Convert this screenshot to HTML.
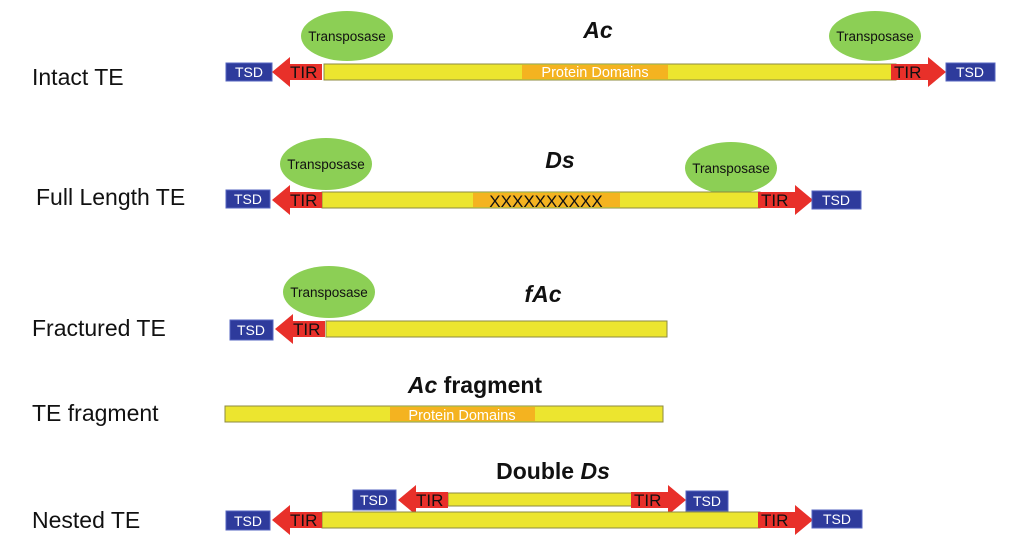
<!DOCTYPE html>
<html><head><meta charset="utf-8"><style>
html,body{margin:0;padding:0;background:#fff;}
svg{display:block;font-family:"Liberation Sans",sans-serif;}
.lbl{font-size:23px;fill:#111;}
.tsd{fill:#2e3b9c;stroke:#5565c0;stroke-width:1}
.tsdt{font-size:14px;fill:#fff;text-anchor:middle}
.tir{fill:#e8302a}
.tirt{font-size:17px;fill:#111}
.bar{fill:#ece52f;stroke:#8c8a40;stroke-width:1}
.or{fill:#f4b320}
.ell{fill:#8ccf55}
.tp{font-size:13.5px;fill:#111;text-anchor:middle}
.ttl{font-size:23px;font-weight:bold;fill:#111;text-anchor:middle}
</style></head><body>
<svg width="1020" height="541" viewBox="0 0 1020 541">
<defs>
<g id="L"><path class="tir" d="M0 0 L18 -15 L18 -8 L50 -8 L50 8 L18 8 L18 15 Z"/><text class="tirt" x="18" y="6">TIR</text></g>
<g id="R"><path class="tir" d="M0 0 L-18 -15 L-18 -8 L-55 -8 L-55 8 L-18 8 L-18 15 Z"/><text class="tirt" x="-52" y="6">TIR</text></g>
</defs>
<!-- Row 1 -->
<text class="lbl" x="32" y="85">Intact TE</text>
<ellipse class="ell" cx="347" cy="36" rx="46" ry="25"/><text class="tp" x="347" y="41">Transposase</text>
<ellipse class="ell" cx="875" cy="36" rx="46" ry="25"/><text class="tp" x="875" y="41">Transposase</text>
<text class="ttl" x="598" y="38" font-style="italic">Ac</text>
<rect class="bar" x="324" y="64" width="572" height="16"/>
<rect class="or" x="522" y="65" width="146" height="14"/>
<text x="595" y="77" font-size="14.5" fill="#fff" text-anchor="middle">Protein Domains</text>
<rect class="tsd" x="226" y="63" width="46" height="18"/><text class="tsdt" x="249" y="77">TSD</text>
<use href="#L" x="272" y="72"/>
<use href="#R" x="946" y="72"/>
<rect class="tsd" x="946" y="63" width="49" height="18"/><text class="tsdt" x="970" y="77">TSD</text>
<!-- Row 2 -->
<text class="lbl" x="36" y="205">Full Length TE</text>
<ellipse class="ell" cx="326" cy="164" rx="46" ry="26"/><text class="tp" x="326" y="169">Transposase</text>
<ellipse class="ell" cx="731" cy="168" rx="46" ry="26"/><text class="tp" x="731" y="173">Transposase</text>
<text class="ttl" x="560" y="168" font-style="italic">Ds</text>
<rect class="bar" x="322" y="192" width="438" height="16"/>
<rect class="or" x="473" y="193" width="147" height="14"/>
<text x="546" y="207" font-size="17" fill="#111" text-anchor="middle">XXXXXXXXXX</text>
<rect class="tsd" x="226" y="190" width="44" height="18"/><text class="tsdt" x="248" y="204">TSD</text>
<use href="#L" x="272" y="200"/>
<use href="#R" x="813" y="200"/>
<rect class="tsd" x="812" y="191" width="49" height="18"/><text class="tsdt" x="836" y="205">TSD</text>
<!-- Row 3 -->
<text class="lbl" x="32" y="336">Fractured TE</text>
<ellipse class="ell" cx="329" cy="292" rx="46" ry="26"/><text class="tp" x="329" y="297">Transposase</text>
<text class="ttl" x="543" y="302" font-style="italic">fAc</text>
<rect class="bar" x="326" y="321" width="341" height="16"/>
<rect class="tsd" x="230" y="320" width="43" height="20"/><text class="tsdt" x="251" y="335">TSD</text>
<use href="#L" x="275" y="329"/>
<!-- Row 4 -->
<text class="lbl" x="32" y="421">TE fragment</text>
<text class="ttl" x="475" y="393"><tspan font-style="italic">Ac</tspan> fragment</text>
<rect class="bar" x="225" y="406" width="438" height="16"/>
<rect class="or" x="390" y="407" width="145" height="14"/>
<text x="462" y="420" font-size="14.5" fill="#fff" text-anchor="middle">Protein Domains</text>
<!-- Row 5 -->
<text class="lbl" x="32" y="528">Nested TE</text>
<text class="ttl" x="553" y="479">Double <tspan font-style="italic">Ds</tspan></text>
<rect class="bar" x="448" y="493" width="188" height="13"/>
<rect class="tsd" x="353" y="490" width="43" height="20"/><text class="tsdt" x="374" y="505">TSD</text>
<use href="#L" x="398" y="500"/>
<use href="#R" x="686" y="500"/>
<rect class="tsd" x="686" y="491" width="42" height="20"/><text class="tsdt" x="707" y="506">TSD</text>
<rect class="bar" x="322" y="512" width="438" height="16"/>
<rect class="tsd" x="226" y="511" width="44" height="19"/><text class="tsdt" x="248" y="526">TSD</text>
<use href="#L" x="272" y="520"/>
<use href="#R" x="813" y="520"/>
<rect class="tsd" x="812" y="510" width="50" height="18"/><text class="tsdt" x="837" y="524">TSD</text>
</svg>
</body></html>
